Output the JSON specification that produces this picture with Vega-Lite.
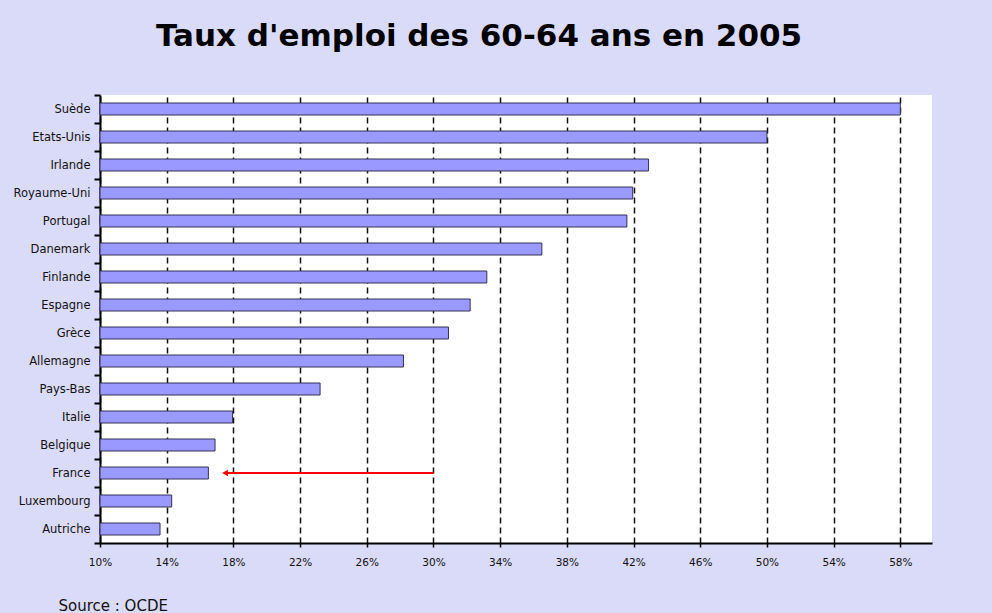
{
  "$schema": "https://vega.github.io/schema/vega-lite/v6.json",
  "width": 832,
  "height": 448,
  "autosize": {"type": "none"},
  "padding": {"left": 100, "top": 95, "right": 60, "bottom": 70},
  "background": "#dadaf9",
  "view": {"fill": "white", "stroke": null},
  "title": {
    "text": "Taux d'emploi des 60-64 ans en 2005",
    "font": "DejaVu Sans",
    "fontSize": 31,
    "fontWeight": "bold",
    "color": "black",
    "anchor": "middle",
    "frame": "group",
    "dx": -37,
    "offset": 12,
    "baseline": "alphabetic"
  },
  "datasets": {
    "emploi": [
      {"pays": "Suède", "taux": 58.0},
      {"pays": "Etats-Unis", "taux": 50.0},
      {"pays": "Irlande", "taux": 42.9},
      {"pays": "Royaume-Uni", "taux": 41.95},
      {"pays": "Portugal", "taux": 41.6},
      {"pays": "Danemark", "taux": 36.5},
      {"pays": "Finlande", "taux": 33.2},
      {"pays": "Espagne", "taux": 32.2},
      {"pays": "Grèce", "taux": 30.9},
      {"pays": "Allemagne", "taux": 28.2},
      {"pays": "Pays-Bas", "taux": 23.2},
      {"pays": "Italie", "taux": 17.95},
      {"pays": "Belgique", "taux": 16.9},
      {"pays": "France", "taux": 16.5},
      {"pays": "Luxembourg", "taux": 14.3},
      {"pays": "Autriche", "taux": 13.6}
    ],
    "fleche": [
      {"pays": "France", "debut": 30.0, "fin": 17.5}
    ]
  },
  "layer": [
    {
      "data": {"name": "emploi"},
      "mark": {"type": "bar", "size": 12, "fill": "#9999ff", "stroke": "#333355", "strokeWidth": 1},
      "encoding": {
        "y": {
          "field": "pays",
          "type": "nominal",
          "sort": null,
          "scale": {"paddingInner": 0, "paddingOuter": 0},
          "axis": {
            "title": null,
            "labelFont": "DejaVu Sans",
            "labelFontSize": 11.5,
            "labelColor": "#111111",
            "labelPadding": 4,
            "domainColor": "black",
            "domainWidth": 2,
            "tickColor": "black",
            "tickWidth": 2,
            "tickSize": 6,
            "tickBand": "extent",
            "grid": false
          }
        },
        "x": {
          "field": "taux",
          "type": "quantitative",
          "scale": {"domain": [10, 59.9], "zero": false, "nice": false},
          "axis": {
            "values": [10, 14, 18, 22, 26, 30, 34, 38, 42, 46, 50, 54, 58],
            "labelExpr": "datum.value + '%'",
            "labelFlush": false,
            "labelFont": "DejaVu Sans",
            "labelFontSize": 10.5,
            "labelColor": "#111111",
            "labelPadding": 10,
            "domainColor": "black",
            "domainWidth": 2,
            "tickColor": "black",
            "tickWidth": 1.5,
            "tickSize": 4,
            "grid": true,
            "gridColor": "#111111",
            "gridWidth": 1.5,
            "gridDash": [6, 4],
            "title": "Source : OCDE",
            "titleFont": "DejaVu Sans",
            "titleFontSize": 15,
            "titleFontWeight": "normal",
            "titleColor": "#111111",
            "titleAnchor": "start",
            "titleAlign": "left",
            "titleBaseline": "alphabetic",
            "titleX": -42,
            "titleY": 67
          }
        },
        "x2": {"datum": 10}
      }
    },
    {
      "data": {"name": "fleche"},
      "mark": {"type": "rule", "color": "#ff0000", "strokeWidth": 2},
      "encoding": {
        "y": {"field": "pays", "type": "nominal", "sort": null},
        "x": {"field": "debut", "type": "quantitative"},
        "x2": {"field": "fin"}
      }
    },
    {
      "data": {"name": "fleche"},
      "mark": {"type": "point", "shape": "triangle-left", "filled": true, "color": "#ff0000", "size": 45, "opacity": 1},
      "encoding": {
        "y": {"field": "pays", "type": "nominal", "sort": null},
        "x": {"field": "fin", "type": "quantitative"}
      }
    }
  ]
}
